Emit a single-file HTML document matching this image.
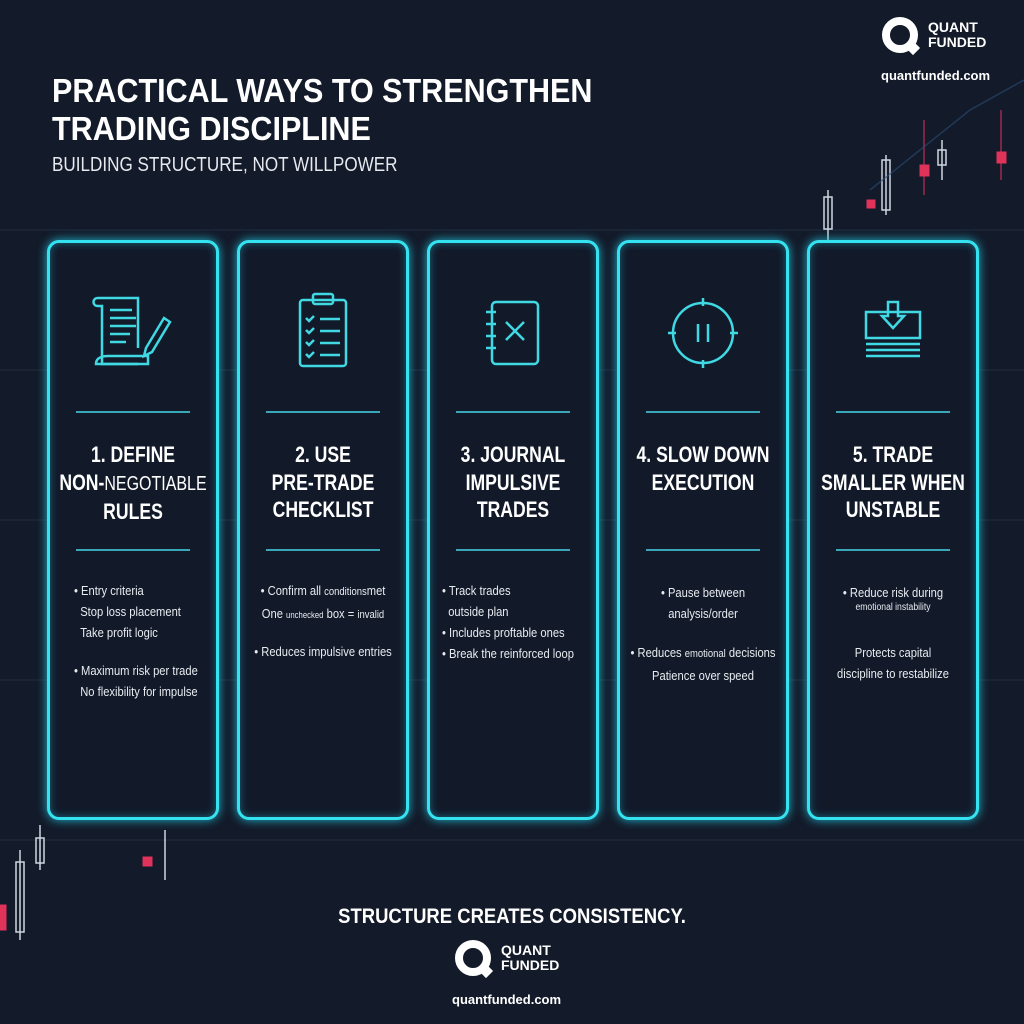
<!DOCTYPE html>
<html><head><meta charset="utf-8"><style>
*{margin:0;padding:0;box-sizing:border-box}
body{width:1024px;height:1024px;background:#131a29;position:relative;overflow:hidden;font-family:"Liberation Sans",sans-serif;color:#fff}
.h1{position:absolute;left:52px;top:72px;font-size:33px;font-weight:bold;line-height:38px;white-space:nowrap;transform:scaleX(0.925);transform-origin:left}
.sub{position:absolute;left:52px;top:154px;font-size:20px;color:#e6e9ee;white-space:nowrap;transform:scaleX(0.855);transform-origin:left}
.card{position:absolute;top:240px;width:172px;height:580px;border:3px solid #35e3f0;border-radius:12px;background:#121a2a;box-shadow:0 0 10px #1fb7d0,inset 0 0 8px rgba(31,183,208,.5)}
.div{position:absolute;left:26px;width:114px;height:2px;background:#3aa7b8}
.t{position:absolute;left:-67px;width:300px;top:198px;text-align:center;font-size:22px;font-weight:bold;line-height:27.5px;white-space:nowrap}
.t div{transform:scaleX(0.8)}
.b{position:absolute;left:-67px;width:300px;text-align:center;font-size:13px;line-height:21px;color:#e8ecf0;white-space:nowrap}
.b div{transform:scaleX(0.86)}
.bl{position:absolute;font-size:13px;line-height:21px;color:#e8ecf0;white-space:nowrap;transform:scaleX(0.86);transform-origin:left}
.ic{position:absolute;left:38px;top:45px}
.logo{position:absolute;display:flex;align-items:center}
.q{width:36px;height:36px;border-radius:50%;border:8px solid #fff;position:relative}
.q:after{content:"";position:absolute;right:-8px;bottom:-8px;width:10px;height:10px;background:#fff;transform:rotate(45deg)}
.lt{font-weight:bold;font-size:14px;line-height:15px;margin-left:10px}
.url{position:absolute;font-weight:bold;font-size:13px}
.foot{position:absolute;left:0;width:1024px;top:905px;text-align:center;font-size:21px;font-weight:bold;transform:scaleX(0.88)}
</style></head><body>
<svg width="1024" height="1024" style="position:absolute;left:0;top:0">
<g stroke="#2a3b52" stroke-width="1" opacity=".6">
<line x1="0" y1="230" x2="1024" y2="230"/><line x1="0" y1="370" x2="1024" y2="370"/><line x1="0" y1="520" x2="1024" y2="520"/><line x1="0" y1="680" x2="1024" y2="680"/><line x1="0" y1="840" x2="1024" y2="840"/>
</g>
<g stroke="#cdd6e0" fill="none" stroke-width="1.5">
<line x1="886" y1="155" x2="886" y2="215"/><rect x="882" y="160" width="8" height="50"/>
<line x1="828" y1="190" x2="828" y2="240"/><rect x="824" y="197" width="8" height="32"/>
<line x1="942" y1="140" x2="942" y2="180"/><rect x="938" y="150" width="8" height="15"/>
<line x1="20" y1="850" x2="20" y2="940"/><rect x="16" y="862" width="8" height="70"/>
<line x1="40" y1="825" x2="40" y2="870"/><rect x="36" y="838" width="8" height="25"/>
<line x1="165" y1="830" x2="165" y2="880"/>
</g>
<g fill="#e0335a" stroke="#e0335a">
<rect x="920" y="165" width="9" height="11"/><line x1="924" y1="120" x2="924" y2="195"/>
<rect x="997" y="152" width="9" height="11"/><line x1="1001" y1="110" x2="1001" y2="180"/>
<rect x="867" y="200" width="8" height="8"/>
<rect x="143" y="857" width="9" height="9"/>
<rect x="0" y="905" width="6" height="25"/>
</g>
<polyline points="870,190 920,150 970,110 1024,80" stroke="#2b4f7a" fill="none" stroke-width="1.5" opacity=".6"/>
</svg>
<div class="h1">PRACTICAL WAYS TO STRENGTHEN<br>TRADING DISCIPLINE</div>
<div class="sub">BUILDING STRUCTURE, NOT WILLPOWER</div>

<div class="logo" style="left:882px;top:17px"><div class="q"></div><div class="lt">QUANT<br>FUNDED</div></div>
<div class="url" style="left:881px;top:68px">quantfunded.com</div>

<div class="card" style="left:47px">
<svg class="ic" width="90" height="90" viewBox="0 0 90 90" fill="none" stroke="#3fd8e3" stroke-width="2.5">
<path d="M10 10h40v50"/><path d="M10 10c-6 0-6 8 0 8h4v58h36"/><path d="M8 76c0-8 10-8 12-8h40v8z"/>
<path d="M22 22h22M22 30h26M22 38h26M22 46h20M22 54h16"/><path d="M58 60l18-30 6 4-18 30-8 4z"/></svg>
<div class="div" style="top:168px"></div>
<div class="t"><div>1. DEFINE</div><div>NON-<span style="font-weight:normal;font-size:20px">NEGOTIABLE</span></div><div>RULES</div></div>
<div class="div" style="top:306px"></div>
<div class="bl" style="top:337px;left:24px">• Entry criteria<br>&nbsp;&nbsp;Stop loss placement<br>&nbsp;&nbsp;Take profit logic</div>
<div class="bl" style="top:417px;left:24px">• Maximum risk per trade<br>&nbsp;&nbsp;No flexibility for impulse</div>
</div>

<div class="card" style="left:237px">
<svg class="ic" width="90" height="90" viewBox="0 0 90 90" fill="none" stroke="#3fd8e3" stroke-width="2.5">
<rect x="22" y="12" width="46" height="66" rx="3"/><rect x="35" y="6" width="20" height="10" rx="2"/>
<path d="M28 30l3 3 5-5M28 42l3 3 5-5M28 54l3 3 5-5M28 66l3 3 5-5M42 31h20M42 43h20M42 55h20M42 67h20"/></svg>
<div class="div" style="top:168px"></div>
<div class="t"><div>2. USE</div><div>PRE-TRADE</div><div>CHECKLIST</div></div>
<div class="div" style="top:306px"></div>
<div class="b" style="top:337px"><div>• Confirm all <span style="font-size:11px">conditions</span>met</div><div>One <span style="font-size:9px">unchecked</span> box = <span style="font-size:11px">invalid</span></div></div>
<div class="b" style="top:398px"><div>• Reduces impulsive entries</div></div>
</div>

<div class="card" style="left:427px">
<svg class="ic" width="90" height="90" viewBox="0 0 90 90" fill="none" stroke="#3fd8e3" stroke-width="2.5">
<rect x="24" y="14" width="46" height="62" rx="4"/><path d="M18 24h10M18 36h10M18 48h10M18 60h10M38 34l18 18M56 34l-18 18"/></svg>
<div class="div" style="top:168px"></div>
<div class="t"><div>3. JOURNAL</div><div>IMPULSIVE</div><div>TRADES</div></div>
<div class="div" style="top:306px"></div>
<div class="bl" style="top:337px;left:12px">• Track trades<br>&nbsp;&nbsp;outside plan<br>• Includes proftable ones<br>• Break the reinforced loop</div>
</div>

<div class="card" style="left:617px">
<svg class="ic" width="90" height="90" viewBox="0 0 90 90" fill="none" stroke="#3fd8e3" stroke-width="2.5">
<circle cx="45" cy="45" r="30"/><path d="M45 10v8M45 72v8M10 45h8M72 45h8M40 36v18M50 36v18"/></svg>
<div class="div" style="top:168px"></div>
<div class="t"><div>4. SLOW DOWN</div><div>EXECUTION</div></div>
<div class="div" style="top:306px"></div>
<div class="b" style="top:339px"><div>• Pause between</div><div>analysis/order</div></div>
<div class="b" style="top:399px"><div>• Reduces <span style="font-size:11px">emotional</span> decisions</div><div>Patience over speed</div></div>
</div>

<div class="card" style="left:807px">
<svg class="ic" width="90" height="90" viewBox="0 0 90 90" fill="none" stroke="#3fd8e3" stroke-width="2.5">
<rect x="18" y="24" width="54" height="26"/><path d="M18 56h54M18 62h54M18 68h54M40 14v14h-6l11 12 11-12h-6V14z"/></svg>
<div class="div" style="top:168px"></div>
<div class="t"><div>5. TRADE</div><div>SMALLER WHEN</div><div>UNSTABLE</div></div>
<div class="div" style="top:306px"></div>
<div class="b" style="top:339px"><div>• Reduce risk during</div><div style="font-size:10px;line-height:10px">emotional instability</div></div>
<div class="b" style="top:399px"><div>Protects capital</div><div>discipline to restabilize</div></div>
</div>

<div class="foot">STRUCTURE CREATES CONSISTENCY.</div>
<div class="logo" style="left:455px;top:940px"><div class="q"></div><div class="lt">QUANT<br>FUNDED</div></div>
<div class="url" style="left:452px;top:992px">quantfunded.com</div>
</body></html>
